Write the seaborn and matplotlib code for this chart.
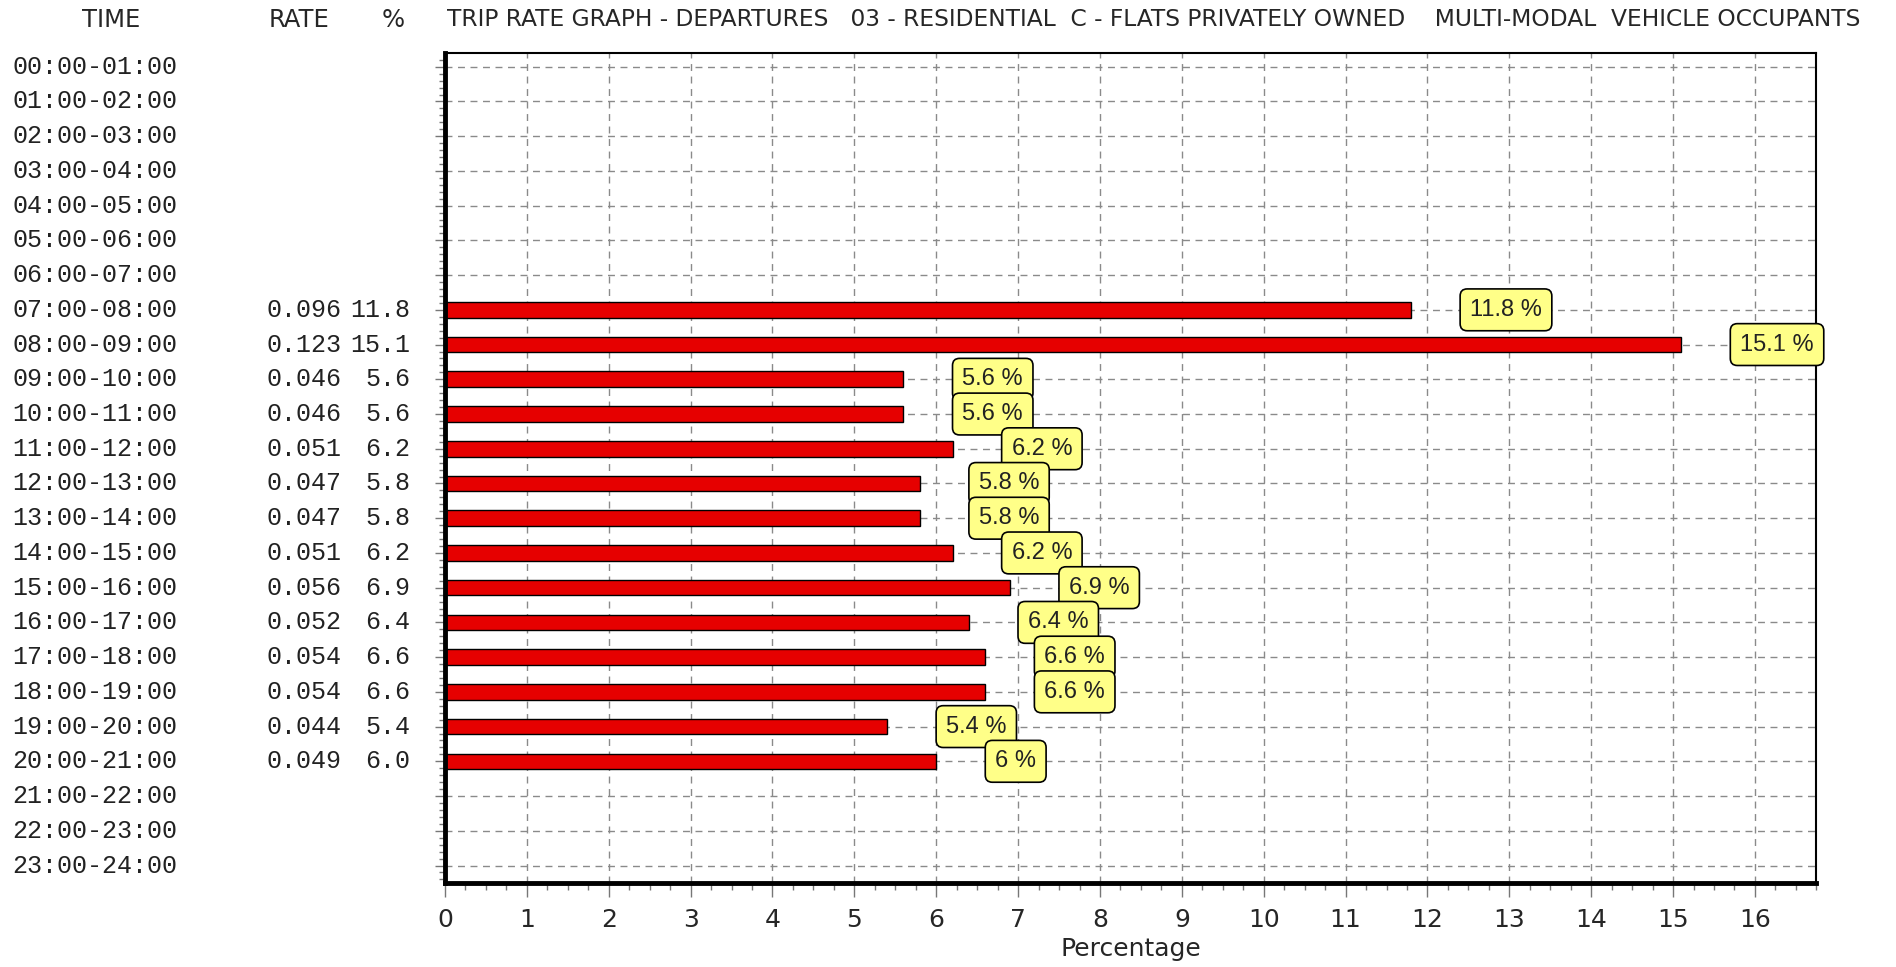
import matplotlib
matplotlib.use("Agg")
import matplotlib.pyplot as plt
from matplotlib.ticker import MultipleLocator
from matplotlib.transforms import blended_transform_factory
import pandas as pd
import seaborn as sns

# Data
times = [
    "00:00-01:00", "01:00-02:00", "02:00-03:00", "03:00-04:00", "04:00-05:00",
    "05:00-06:00", "06:00-07:00", "07:00-08:00", "08:00-09:00", "09:00-10:00",
    "10:00-11:00", "11:00-12:00", "12:00-13:00", "13:00-14:00", "14:00-15:00",
    "15:00-16:00", "16:00-17:00", "17:00-18:00", "18:00-19:00", "19:00-20:00",
    "20:00-21:00", "21:00-22:00", "22:00-23:00", "23:00-24:00",
]
rates = [None] * 7 + [0.096, 0.123, 0.046, 0.046, 0.051, 0.047, 0.047,
                      0.051, 0.056, 0.052, 0.054, 0.054, 0.044, 0.049] + [None] * 3
percents = [None] * 7 + [11.8, 15.1, 5.6, 5.6, 6.2, 5.8, 5.8,
                         6.2, 6.9, 6.4, 6.6, 6.6, 5.4, 6.0] + [None] * 3
x_ticks = list(range(0, 17))

title = ("TRIP RATE GRAPH - DEPARTURES   03 - RESIDENTIAL  C - FLATS PRIVATELY OWNED"
         "    MULTI-MODAL  VEHICLE OCCUPANTS")

df = pd.DataFrame({"time": times, "rate": rates, "pct": percents})
bars = df.dropna()

sns.set_theme(style="white")
mono = ["Liberation Mono", "DejaVu Sans Mono"]
plt.rcParams["font.family"] = ["DejaVu Sans"]

fig = plt.figure(figsize=(18.96, 9.67), dpi=100)
ax = fig.add_axes([0.2347, 0.087, 0.958 - 0.2347, 0.945 - 0.087])

sns.barplot(
    data=bars, x="pct", y="time", order=times, orient="h",
    color="#e60000", saturation=1, width=0.45,
    edgecolor="black", linewidth=1, ax=ax,
)

ax.set_xlim(0, 16.75)
ax.set_ylim(23.5, -0.39)
ax.set_axisbelow(True)

ax.xaxis.set_minor_locator(MultipleLocator(0.25))
ax.yaxis.set_minor_locator(MultipleLocator(0.2))
ax.set_xticks(x_ticks)
ax.set_xticklabels([str(t) for t in x_ticks], fontsize=18)
ax.set_yticklabels([])
ax.grid(True, which="major", color="#8a8a8a", linestyle=(0, (5, 4)), linewidth=1)

ax.tick_params(axis="x", which="major", direction="out", length=10, width=1,
               color="#777777", pad=8, bottom=True)
ax.tick_params(axis="x", which="minor", direction="out", length=5, width=1,
               color="#777777", bottom=True)
ax.tick_params(axis="y", which="major", direction="out", length=7, width=1,
               color="#777777", left=True)
ax.tick_params(axis="y", which="minor", direction="out", length=4, width=1,
               color="#777777", left=True)

for side in ["top", "right"]:
    ax.spines[side].set_linewidth(1.5)
    ax.spines[side].set_color("black")
for side in ["left", "bottom"]:
    ax.spines[side].set_linewidth(3.5)
    ax.spines[side].set_color("black")

ax.set_xlabel("Percentage", fontsize=18, labelpad=4)
ax.set_ylabel("")

# Value labels in yellow boxes
for i, p in enumerate(percents):
    if p is None:
        continue
    ax.text(p + 0.72, i, f"{p:g} %", ha="left", va="center", fontsize=17,
            family=["Liberation Sans", "DejaVu Sans"], color="#222222",
            bbox=dict(boxstyle="round,pad=0.42,rounding_size=0.3",
                      facecolor="#ffff88", edgecolor="black", linewidth=1.2))

# Left-hand table: time, rate and percentage columns
tr = blended_transform_factory(fig.transFigure, ax.transData)
for i, t in enumerate(times):
    ax.text(12 / 1896, i, t, transform=tr, ha="left", va="center",
            fontsize=18, family=mono, color="#222222")
    if rates[i] is not None:
        ax.text(341 / 1896, i, f"{rates[i]:.3f}", transform=tr, ha="right",
                va="center", fontsize=18, family=mono, color="#222222")
        ax.text(410 / 1896, i, f"{percents[i]:.1f}", transform=tr, ha="right",
                va="center", fontsize=18, family=mono, color="#222222")

# Header row
hy = 1 - 20 / 967
fig.text(111 / 1896, hy, "TIME", ha="center", va="center", fontsize=17.5)
fig.text(299 / 1896, hy, "RATE", ha="center", va="center", fontsize=17.5)
fig.text(393 / 1896, hy, "%", ha="center", va="center", fontsize=17.5)
fig.text(447 / 1896, hy, title, ha="left", va="center", fontsize=16.8)

fig.savefig("out.png", dpi=100)
